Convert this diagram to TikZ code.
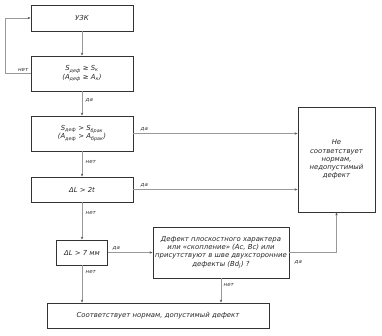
\documentclass[tikz,border=0pt]{standalone}
\usepackage{fontspec}
\setmainfont{DejaVu Sans}
\usetikzlibrary{arrows.meta}
\tikzset{
  box/.style={draw=black!80, line width=0.8pt, rectangle, inner sep=1pt, align=center,
              font=\fontsize{6.9}{8.2}\selectfont\itshape, text=black!85},
  conn/.style={draw=black!40, line width=0.5pt, -{Stealth[length=3pt,width=2.4pt,color=black!65]}},
  lbl/.style={font=\fontsize{5.5}{6}\selectfont\itshape, text=black!80, inner sep=0.5pt}
}
\begin{document}
\begin{tikzpicture}[x=1pt,y=-1pt]
\useasboundingbox (0,0) rectangle (382,335);
\node[box, minimum width=102pt, minimum height=26pt] (b1) at (82,18) {УЗК};
\node[box, minimum width=102pt, minimum height=35pt] (b2) at (82,73.5) {S\textsubscript{деф} ≥ S\textsubscript{к}\\(A\textsubscript{деф} ≥ A\textsubscript{к})};
\node[box, minimum width=102pt, minimum height=35pt] (b3) at (82,133.5) {S\textsubscript{деф} > S\textsubscript{брак}\\(A\textsubscript{деф} > A\textsubscript{брак})};
\node[box, minimum width=102pt, minimum height=25pt] (b4) at (82,189.5) {ΔL > 2t};
\node[box, minimum width=51pt, minimum height=25pt] (b5) at (82,252.5) {ΔL > 7 мм};
\node[box, minimum width=136pt, minimum height=51pt] (b6) at (221,252.5) {Дефект плоскостного характера\\или «скопление» (Ас, Вс) или\\присутствуют в шве двухсторонние\\дефекты (Bd\textsubscript{j}) ?};
\node[box, minimum width=77pt, minimum height=105pt] (r) at (336.5,159.5) {Не\\соответствует\\нормам,\\недопустимый\\дефект};
\node[box, minimum width=222pt, minimum height=25pt] (b7) at (158,315.5) {Соответствует нормам, допустимый дефект};

\coordinate (fb1) at (5,73.5);
\coordinate (fb2) at (5,18);
\coordinate (k6) at (336.5,252.5);

\draw[conn] (b1) -- (b2);
\draw[conn] (b2.west) -- (fb1) -- (fb2) -- (b1.west);
\node[lbl, anchor=east] (l1) at (29,70) {нет};
\draw[conn] (b2) -- (b3);
\node[lbl, anchor=west] (l2) at (85,100) {да};
\draw[conn] (b3.east) -- (r.west |- b3.east);
\node[lbl, anchor=west] (l3) at (140,129) {да};
\draw[conn] (b3) -- (b4);
\node[lbl, anchor=west] (l4) at (85,162) {нет};
\draw[conn] (b4.east) -- (r.west |- b4.east);
\node[lbl, anchor=west] (l5) at (140,185) {да};
\draw[conn] (b4) -- (b5);
\node[lbl, anchor=west] (l6) at (85,213) {нет};
\draw[conn] (b5) -- (b6);
\node[lbl, anchor=west] (l7) at (112,248) {да};
\draw[conn] (b6.east) -- (k6) -- (r.south);
\node[lbl, anchor=west] (l8) at (294,262) {да};
\draw[conn] (b6.south) -- (b6.south |- b7.north);
\node[lbl, anchor=west] (l9) at (223,285) {нет};
\draw[conn] (b5.south) -- (b5.south |- b7.north);
\node[lbl, anchor=west] (l10) at (85,272) {нет};
\end{tikzpicture}
\end{document}
